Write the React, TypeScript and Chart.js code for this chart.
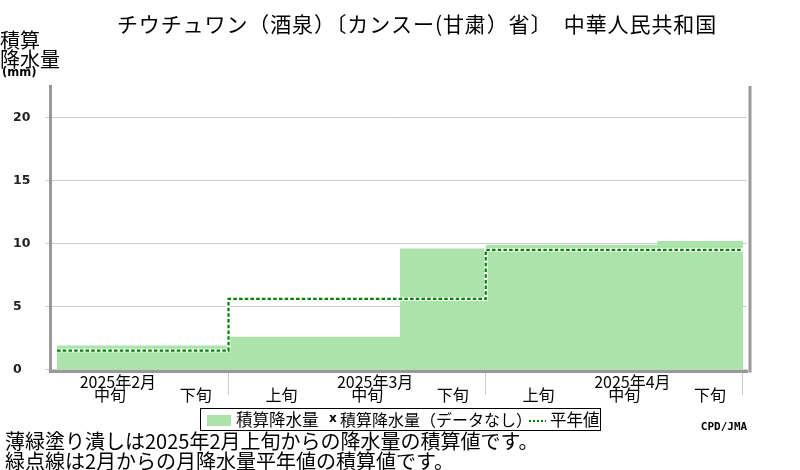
import { useEffect, useRef } from "react"
import { Chart, registerables } from "chart.js"

Chart.register(...registerables)

const TITLE = "チウチュワン（酒泉）〔カンスー(甘粛）省〕　中華人民共和国"
const MONTHS = ["2025年2月", "2025年2月", "2025年3月", "2025年3月", "2025年3月", "2025年4月", "2025年4月", "2025年4月"]
const DEKADS = ["中旬", "下旬", "上旬", "中旬", "下旬", "上旬", "中旬", "下旬"]
// accumulated precipitation (mm) and accumulated normal, one value per dekad
const PRECIP = [1.9, 1.9, 2.6, 2.6, 9.6, 9.9, 9.9, 10.2]
const NORMAL = [1.5, 1.5, 5.6, 5.6, 5.6, 9.5, 9.5, 9.5]
const Y_TICKS = [0, 5, 10, 15, 20]
const NOTES = [
  "薄緑塗り潰しは2025年2月上旬からの降水量の積算値です。",
  "緑点線は2月からの月降水量平年値の積算値です。",
]

const JP = "'Noto Sans CJK JP', sans-serif"
const GREEN = "rgb(171, 227, 171)"
const DARK_GREEN = "#008000"
const FRAME = "#999"

// value i holds over [i, i+1]; last value repeated at the right edge
function stepPoints(values: number[]) {
  const pts = values.map((y, i) => ({ x: i, y }))
  pts.push({ x: values.length, y: values[values.length - 1] })
  return pts
}

// dekad index where a new month starts, plus the right end
const monthEdges = MONTHS.map((m, i) => (i > 0 && m !== MONTHS[i - 1] ? i : -1))
  .filter((i) => i > 0)
  .concat([MONTHS.length])

const overlay = {
  id: "overlay",
  afterDraw(chart: Chart) {
    const { ctx, chartArea } = chart
    const x = chart.scales.x
    ctx.save()

    // right frame
    ctx.strokeStyle = FRAME
    ctx.lineWidth = 3
    ctx.beginPath()
    ctx.moveTo(chartArea.right + 3, chartArea.top)
    ctx.lineTo(chartArea.right + 3, chartArea.bottom + 1.5)
    ctx.stroke()

    ctx.fillStyle = "#000"
    ctx.textBaseline = "middle"

    ctx.font = `21px ${JP}`
    ctx.textAlign = "center"
    ;(ctx as any).letterSpacing = "0.9px"
    ctx.fillText(TITLE, 417, 24)
    ;(ctx as any).letterSpacing = "0px"

    ctx.textAlign = "left"
    ctx.font = `20px ${JP}`
    ctx.fillText("積算", 0, 40)
    ctx.fillText("降水量", 0, 59)
    ctx.font = "bold 11.5px 'DejaVu Sans'"
    ctx.fillText("(mm)", 2, 73)

    // month labels above the middle dekad
    ctx.textAlign = "center"
    ctx.font = `16px ${JP}`
    MONTHS.forEach((m, i) => {
      if (DEKADS[i] === "中旬") ctx.fillText(m, x.getPixelForValue(i + 0.5) + 18, 382)
    })

    // legend
    ctx.textAlign = "left"
    ctx.strokeStyle = "#000"
    ctx.lineWidth = 1
    ctx.strokeRect(200.5, 408.5, 400, 22)
    ctx.fillStyle = GREEN
    ctx.fillRect(207, 415, 24, 11)
    ctx.fillStyle = "#000"
    ctx.font = `16.5px ${JP}`
    ctx.fillText("積算降水量", 236, 420)
    ctx.font = "bold 12px 'DejaVu Sans'"
    ctx.fillText("x", 329, 419)
    ctx.font = `16px ${JP}`
    ctx.fillText("積算降水量（データなし）", 340, 420)
    ctx.strokeStyle = DARK_GREEN
    ctx.lineWidth = 2
    ctx.setLineDash([2, 2])
    ctx.beginPath()
    ctx.moveTo(529, 421)
    ctx.lineTo(546, 421)
    ctx.stroke()
    ctx.setLineDash([])
    ctx.font = `16.5px ${JP}`
    ctx.fillText("平年値", 550, 420)

    ctx.font = "bold 11px 'DejaVu Sans Mono'"
    ctx.textAlign = "center"
    ctx.fillText("CPD/JMA", 724, 427)

    ctx.textAlign = "left"
    ctx.font = `20px ${JP}`
    NOTES.forEach((t, i) => ctx.fillText(t, 5, 441 + i * 20))

    ctx.restore()
  },
}

export default function App() {
  const canvasRef = useRef<HTMLCanvasElement>(null)
  const chartRef = useRef<Chart | null>(null)

  useEffect(() => {
    if (!canvasRef.current) return
    if (chartRef.current) chartRef.current.destroy()

    chartRef.current = new Chart(canvasRef.current, {
      type: "line",
      data: {
        datasets: [
          {
            label: "積算降水量",
            data: stepPoints(PRECIP),
            stepped: true,
            fill: "origin",
            backgroundColor: GREEN,
            borderColor: "rgba(0,0,0,0)",
            borderWidth: 0,
            pointRadius: 0,
            order: 3,
          },
          {
            label: "平年値 (bg)",
            data: stepPoints(NORMAL),
            stepped: true,
            fill: false,
            borderColor: "#fff",
            borderWidth: 3.5,
            pointRadius: 0,
            order: 2,
          },
          {
            label: "平年値",
            data: stepPoints(NORMAL),
            stepped: true,
            fill: false,
            borderColor: DARK_GREEN,
            borderWidth: 2.2,
            borderDash: [3.5, 2.2],
            pointRadius: 0,
            order: 1,
          },
        ],
      },
      options: {
        animation: false,
        responsive: false,
        layout: { padding: { left: 13, top: 86, right: 53, bottom: 0 } },
        plugins: {
          legend: { display: false },
          title: { display: false },
          tooltip: { enabled: false },
        },
        scales: {
          x: {
            type: "linear",
            min: -0.082,
            max: 8.047,
            afterBuildTicks: (s: any) => {
              const t = []
              for (let v = 0; v <= DEKADS.length; v += 0.5) t.push({ value: v })
              s.ticks = t
            },
            afterFit: (s: any) => {
              s.height = 99
            },
            ticks: {
              autoSkip: false,
              maxRotation: 0,
              minRotation: 0,
              labelOffset: 10,
              padding: -10,
              color: "#000",
              font: { family: JP, size: 16 },
              callback: (v: any) => (v % 1 === 0.5 ? DEKADS[Math.floor(v)] : ""),
            },
            grid: {
              drawOnChartArea: false,
              tickLength: 24,
              color: (c: any) =>
                c.tick && monthEdges.includes(c.tick.value) ? "#ccc" : "rgba(0,0,0,0)",
            },
            border: { color: FRAME, width: 3 },
          },
          y: {
            type: "linear",
            min: -0.12,
            max: 22.5,
            afterBuildTicks: (s: any) => {
              s.ticks = Y_TICKS.map((v) => ({ value: v }))
            },
            afterFit: (s: any) => {
              s.width = 37
            },
            ticks: {
              crossAlign: "far",
              color: "#222",
              font: { family: "'DejaVu Sans'", size: 12.5, weight: "bold" },
            },
            grid: { color: "#ccc", tickLength: 5 },
            border: { color: FRAME, width: 3 },
          },
        },
      },
      plugins: [overlay],
    })

    return () => {
      if (chartRef.current) {
        chartRef.current.destroy()
        chartRef.current = null
      }
    }
  }, [])

  return (
    <div style={{ position: "absolute", left: 0, top: 0, width: 800, height: 470, background: "#fff" }}>
      <canvas ref={canvasRef} width={800} height={470} />
    </div>
  )
}
